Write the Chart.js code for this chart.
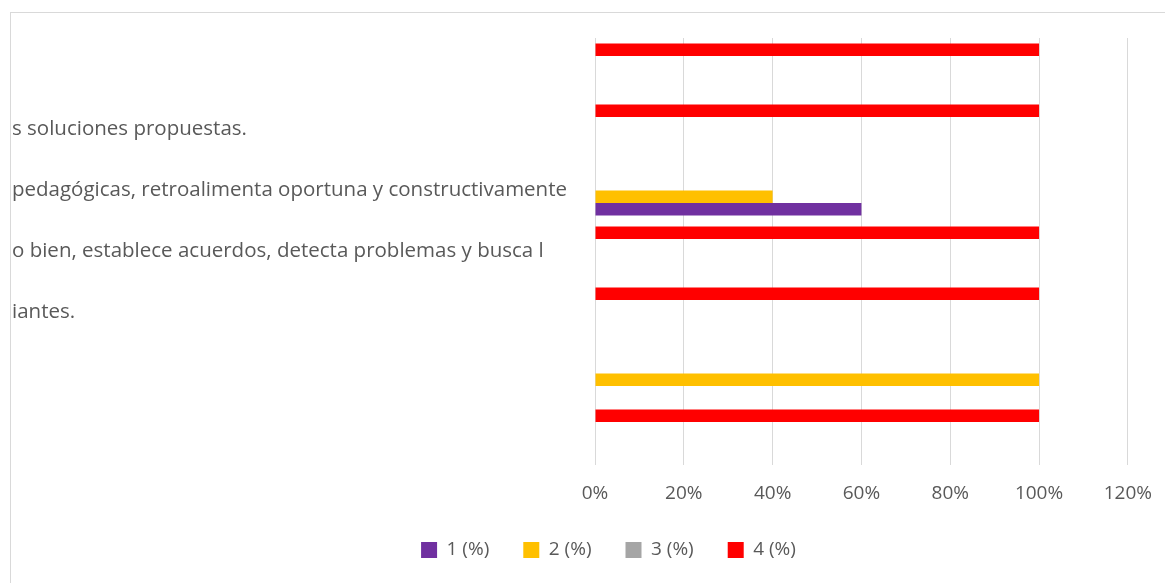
<!DOCTYPE html>
<html>
<head>
<meta charset="utf-8">
<script src="https://cdn.jsdelivr.net/npm/chart.js@4.4.0/dist/chart.umd.min.js"></script>
<style>
  html, body { margin: 0; padding: 0; background: #fff; overflow: hidden; }
  #frame { position: absolute; left: 10px; top: 12px; width: 1200px; height: 600px; border: 1px solid #d9d9d9; }
  #wrap { position: absolute; left: 0; top: 0; width: 1169px; height: 583px; }
</style>
</head>
<body>
<div id="frame"></div>
<div id="wrap"><canvas id="chart"></canvas></div>
<script>
// categories, top to bottom (left part of the labels is cut off in the source)
const categories = [
    '',
    's soluciones propuestas.',
    'pedagógicas, retroalimenta oportuna y constructivamente',
    'o bien, establece acuerdos, detecta problemas y busca l',
    'iantes.',
    '',
    ''
];
const serie1 = [0, 0, 60, 0, 0, 0, 0];
const serie2 = [0, 0, 40, 0, 0, 100, 0];
const serie3 = [0, 0, 0, 0, 0, 0, 0];
const serie4 = [100, 100, 0, 100, 100, 0, 100];
const seriesNames = ['1 (%)', '2 (%)', '3 (%)', '4 (%)'];
const seriesColors = ['#7030A0', '#FFC000', '#A5A5A5', '#FF0000'];
const xTicks = [0, 20, 40, 60, 80, 100, 120];

const textColor = '#595959';
const fontFamily = '"Open Sans", sans-serif';

// Excel draws series 1 at the bottom of each group, so datasets go in reverse
const seriesData = [serie1, serie2, serie3, serie4];
const datasets = [3, 2, 1, 0].map(i => ({
    label: seriesNames[i],
    data: seriesData[i],
    backgroundColor: seriesColors[i],
    borderWidth: 0,
    barPercentage: 1.0,
    categoryPercentage: 0.82
}));

// move the legend so it sits like in the original
const legendShift = {
    id: 'legendShift',
    afterLayout(chart) {
        const lg = chart.legend;
        lg.left += 32;
        lg.right += 32;
        lg.top -= 13.5;
        lg.bottom -= 13.5;
    }
};

new Chart(document.getElementById('chart'), {
    type: 'bar',
    data: { labels: categories, datasets: datasets },
    plugins: [legendShift],
    options: {
        indexAxis: 'y',
        responsive: true,
        maintainAspectRatio: false,
        animation: false,
        layout: { padding: { left: 12, top: 38, right: 28, bottom: 0 } },
        plugins: {
            tooltip: { enabled: false },
            legend: {
                position: 'bottom',
                reverse: true,
                labels: {
                    color: textColor,
                    boxWidth: 16,
                    boxHeight: 16,
                    padding: 34,
                    font: { family: fontFamily, size: 19 }
                }
            }
        },
        scales: {
            x: {
                min: 0,
                max: 120,
                afterBuildTicks: (scale) => { scale.ticks = xTicks.map(v => ({ value: v })); },
                afterFit: (scale) => { scale.height = 55; },
                grid: { color: '#d9d9d9', drawTicks: false },
                border: { display: false },
                ticks: {
                    color: textColor,
                    padding: 17,
                    font: { family: fontFamily, size: 19 },
                    callback: (v) => v + '%'
                }
            },
            y: {
                afterFit: (scale) => { scale.width = 583; },
                grid: { display: false },
                border: { display: false },
                ticks: {
                    color: textColor,
                    crossAlign: 'far',
                    autoSkip: false,
                    font: { family: fontFamily, size: 20.5 }
                }
            }
        }
    }
});
</script>
</body>
</html>
